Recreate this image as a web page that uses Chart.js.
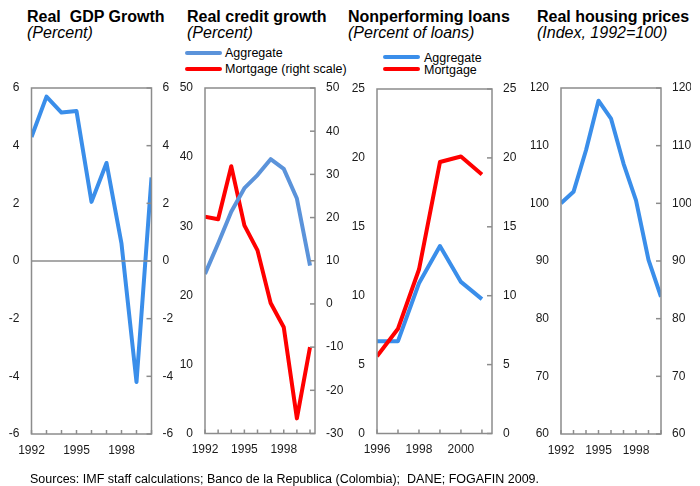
<!DOCTYPE html>
<html>
<head>
<meta charset="utf-8">
<script src="https://cdn.jsdelivr.net/npm/chart.js@4.4.0/dist/chart.umd.min.js"></script>
<style>
  body { margin: 0; background: #fff; }
  #wrap { position: relative; width: 700px; height: 486px; font-family: "Liberation Sans", Arial, sans-serif; color: #000; }
  canvas { position: absolute; left: 0; top: 0; }
  .t { position: absolute; font-size: 16px; line-height: 16px; font-weight: bold; white-space: nowrap; }
  .s { position: absolute; font-size: 16px; line-height: 16px; font-style: italic; white-space: nowrap; }
  .lg { position: absolute; font-size: 12.5px; line-height: 12px; white-space: nowrap; }
  .sw { position: absolute; height: 4px; border-radius: 2px; }
  #src { position: absolute; left: 30px; top: 473px; font-size: 12.5px; line-height: 12px; white-space: nowrap; }
</style>
</head>
<body>
<div id="wrap">
  <div class="t" style="left:27px;top:8.5px">Real&nbsp; GDP Growth</div>
  <div class="s" style="left:27px;top:25px">(Percent)</div>

  <div class="t" style="left:187px;top:8.5px">Real credit growth</div>
  <div class="s" style="left:187px;top:25px">(Percent)</div>
  <div class="sw" style="left:185px;top:51px;width:37px;background:#5B93DA"></div>
  <div class="lg" style="left:225px;top:47px">Aggregate</div>
  <div class="sw" style="left:185px;top:67px;width:37px;background:#ff0000"></div>
  <div class="lg" style="left:225px;top:63px">Mortgage (right scale)</div>

  <div class="t" style="left:348px;top:8.5px">Nonperforming loans</div>
  <div class="s" style="left:348px;top:25px">(Percent of loans)</div>
  <div class="sw" style="left:383px;top:55px;width:37px;background:#3A8EEA"></div>
  <div class="lg" style="left:424px;top:51.5px">Aggregate</div>
  <div class="sw" style="left:383px;top:67px;width:37px;background:#ff0000"></div>
  <div class="lg" style="left:424px;top:63.5px">Mortgage</div>

  <div class="t" style="left:537px;top:8.5px">Real housing prices</div>
  <div class="s" style="left:537px;top:25px">(Index, 1992=100)</div>

  <canvas id="gdpChart" width="700" height="486"></canvas>
  <canvas id="creditChart" width="700" height="486"></canvas>
  <canvas id="nplChart" width="700" height="486"></canvas>
  <canvas id="housingChart" width="700" height="486"></canvas>

  <div id="src">Sources: IMF staff calculations; Banco de la Republica (Colombia);&nbsp; DANE; FOGAFIN 2009.</div>
</div>

<script>
// data
const years = [1992, 1993, 1994, 1995, 1996, 1997, 1998, 1999, 2000];
const nplYears = [1996, 1997, 1998, 1999, 2000, 2001];

const gdpGrowth = [4.3, 5.7, 5.15, 5.2, 2.05, 3.4, 0.6, -4.2, 2.9];
const creditAggregate = [23.1, 27.5, 32.1, 35.5, 37.4, 39.7, 38.3, 34.0, 24.3];
const creditMortgage = [20.2, 19.6, 31.9, 18.2, 12.4, 0.2, -5.4, -26.5, -10.0];
const nplAggregate = [6.7, 6.7, 10.9, 13.6, 11.0, 9.75];
const nplMortgage = [5.6, 7.6, 11.9, 19.7, 20.1, 18.8];
const housingPrices = [100, 102, 109.2, 117.8, 114.7, 106.9, 100.5, 90.2, 83.8];

const labels1 = [1992, 1995, 1998];
const labels3 = [1996, 1998, 2000];

const blue = '#3A8EEA';
const blue2 = '#5B93DA';
const red = '#ff0000';
const grey = '#8c8c8c';
const font = { family: '"Liberation Sans", Arial, sans-serif', size: 12 };

function pts(xs, ys) {
    return xs.map((x, i) => ({ x: x, y: ys[i] }));
}

// frame, inside tick marks and zero line
const framePlugin = {
    id: 'frame',
    afterDraw(chart, args, opts) {
        const c = chart.ctx;
        const a = chart.chartArea;
        c.save();
        c.strokeStyle = grey;
        c.lineWidth = 1.5;
        const xs = chart.scales.x;
        for (let v = Math.ceil(xs.min); v <= xs.max; v++) {
            const px = xs.getPixelForValue(v);
            c.beginPath();
            c.moveTo(px, a.bottom);
            c.lineTo(px, a.bottom - 4);
            c.stroke();
        }
        const y2 = chart.scales.y2;
        y2.ticks.forEach(t => {
            const py = y2.getPixelForValue(t.value);
            c.beginPath();
            c.moveTo(a.right, py);
            c.lineTo(a.right - 5, py);
            c.stroke();
        });
        if (opts.zero) {
            const py = chart.scales.y.getPixelForValue(0);
            c.beginPath();
            c.moveTo(a.left, py);
            c.lineTo(a.right, py);
            c.stroke();
        }
        c.strokeRect(a.left, a.top, a.right - a.left, a.bottom - a.top);
        c.restore();
    }
};

function yAxis(pos, min, max, step, pad) {
    return {
        position: pos,
        min: min,
        max: max,
        grid: { display: false, drawTicks: false },
        border: { display: false },
        ticks: { stepSize: step, padding: pad, color: '#1a1a1a', font: font },
        afterFit: s => { s.width = 30; }
    };
}

function makeChart(id, area, datasets, scales, shown, zero) {
    const [L, R, T, B] = area;
    return new Chart(document.getElementById(id), {
        type: 'line',
        data: { datasets: datasets },
        options: {
            responsive: false,
            animation: false,
            events: [],
            layout: {
                autoPadding: false,
                padding: { left: L - 30, right: 700 - R - 30, top: T, bottom: 486 - B - 30 }
            },
            plugins: { legend: { display: false }, tooltip: { enabled: false }, frame: { zero: zero } },
            scales: Object.assign({
                x: {
                    type: 'linear',
                    min: scales.xmin,
                    max: scales.xmax,
                    grid: { display: false, drawTicks: false },
                    border: { display: false },
                    ticks: {
                        stepSize: 1,
                        autoSkip: false,
                        maxRotation: 0,
                        padding: 9,
                        color: '#1a1a1a',
                        font: font,
                        callback: v => shown.includes(v) ? String(v) : ''
                    },
                    afterFit: s => { s.height = 30; }
                }
            }, scales.y)
        },
        plugins: [framePlugin]
    });
}

function line(data, color, axis) {
    return {
        data: data,
        borderColor: color,
        backgroundColor: color,
        borderWidth: 4,
        pointRadius: 0,
        tension: 0,
        borderJoinStyle: 'round',
        yAxisID: axis || 'y'
    };
}

var gdpChart = makeChart('gdpChart', [31.5, 151.5, 88, 434],
    [line(pts(years, gdpGrowth), blue)],
    { xmin: 1992, xmax: 2000, y: { y: yAxis('left', -6, 6, 2, 12), y2: yAxis('right', -6, 6, 2, 11) } },
    labels1, true);

var creditChart = makeChart('creditChart', [205, 315, 88, 433.5],
    [line(pts(years, creditAggregate), blue2), line(pts(years, creditMortgage), red, 'y2')],
    { xmin: 1992, xmax: 2000.38, y: { y: yAxis('left', 0, 50, 10, 12), y2: yAxis('right', -30, 50, 10, 11) } },
    labels1, false);

var nplChart = makeChart('nplChart', [377, 492, 89, 433.5],
    [line(pts(nplYears, nplMortgage), red), line(pts(nplYears, nplAggregate), blue)],
    { xmin: 1996, xmax: 2001.48, y: { y: yAxis('left', 0, 25, 5, 12), y2: yAxis('right', 0, 25, 5, 11) } },
    labels3, false);

var housingChart = makeChart('housingChart', [561, 661, 88, 434],
    [line(pts(years, housingPrices), blue)],
    { xmin: 1992, xmax: 2000, y: { y: yAxis('left', 60, 120, 10, 12), y2: yAxis('right', 60, 120, 10, 11) } },
    labels1, false);
</script>
</body>
</html>
